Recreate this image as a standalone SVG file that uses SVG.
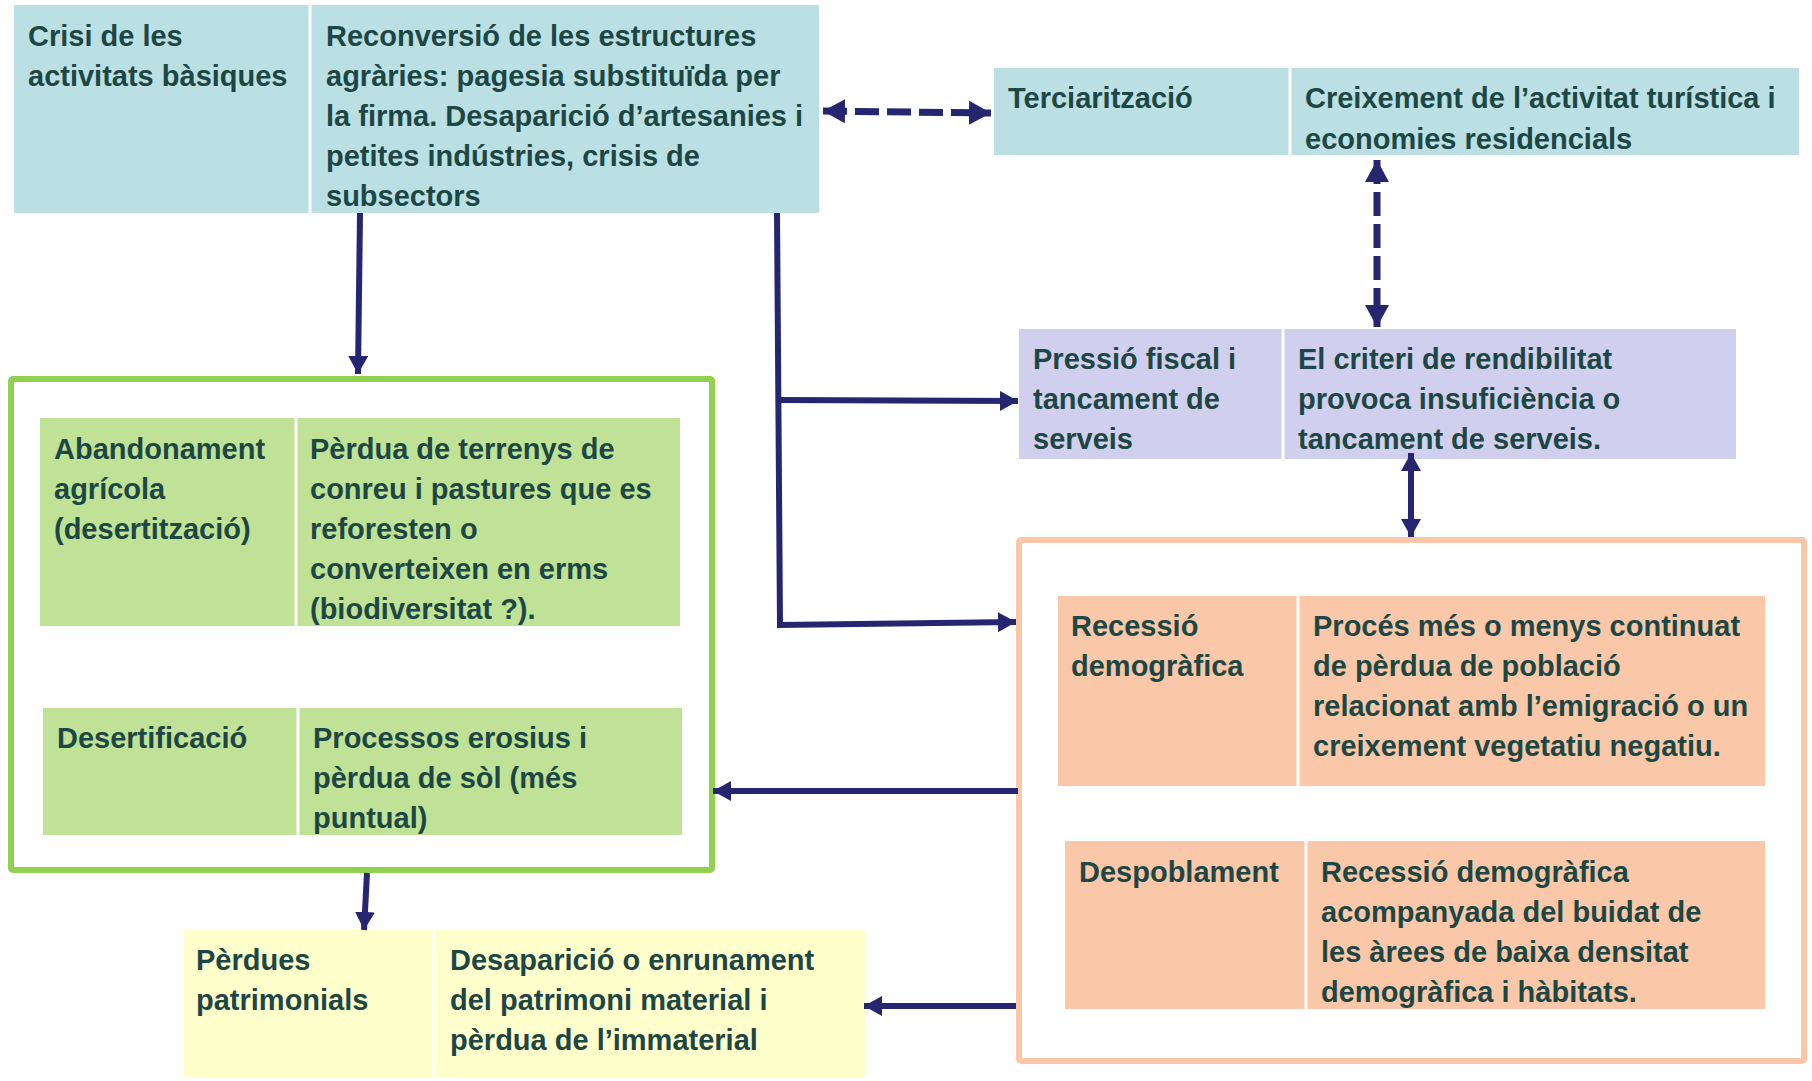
<svg xmlns="http://www.w3.org/2000/svg" width="1812" height="1081" viewBox="0 0 1812 1081">
<style>
  text { font-family: "Liberation Sans", Arial, sans-serif; font-weight: bold; font-size: 29px; fill: #1D4744; }
  .teal { fill: #BAE0E3; }
  .lav { fill: #D0D0EE; }
  .grn { fill: #BFE296; }
  .pch { fill: #FAC8A8; }
  .yel { fill: #FFFFCC; }
  .div { stroke: #ffffff; stroke-width: 3; }
  .con { fill: none; stroke: #262670; stroke-width: 6; }
  .dash { fill: none; stroke: #262670; stroke-width: 7; stroke-dasharray: 24 8; }
</style>
<defs>
  <marker id="arr" viewBox="0 0 18 20" refX="18" refY="10" markerWidth="18" markerHeight="20" orient="auto-start-reverse" markerUnits="userSpaceOnUse">
    <path d="M0,0 L18,10 L0,20 z" fill="#262670"/>
  </marker>
  <marker id="arrD" viewBox="0 0 22 24" refX="22" refY="12" markerWidth="22" markerHeight="24" orient="auto-start-reverse" markerUnits="userSpaceOnUse">
    <path d="M0,0 L22,12 L0,24 z" fill="#262670"/>
  </marker>
</defs>

<g id="node-crisi">
  <rect class="teal" x="14" y="5" width="805" height="208"/>
  <line class="div" x1="310" y1="5" x2="310" y2="213"/>
  <text><tspan x="28" y="46">Crisi de les</tspan><tspan x="28" y="86">activitats bàsiques</tspan></text>
  <text><tspan x="326" y="46">Reconversió de les estructures</tspan><tspan x="326" y="86">agràries: pagesia substituïda per</tspan><tspan x="326" y="126">la firma. Desaparició d’artesanies i</tspan><tspan x="326" y="166">petites indústries, crisis de</tspan><tspan x="326" y="206">subsectors</tspan></text>
</g>

<g id="node-terciaritzacio">
  <rect class="teal" x="994" y="68" width="805" height="87"/>
  <line class="div" x1="1290" y1="68" x2="1290" y2="155"/>
  <text><tspan x="1008" y="108">Terciarització</tspan></text>
  <text><tspan x="1305" y="108">Creixement de l’activitat turística i</tspan><tspan x="1305" y="149">economies residencials</tspan></text>
</g>

<g id="node-pressio">
  <rect class="lav" x="1019" y="329" width="717" height="130"/>
  <line class="div" x1="1283" y1="329" x2="1283" y2="459"/>
  <text><tspan x="1033" y="369">Pressió fiscal i</tspan><tspan x="1033" y="409">tancament de</tspan><tspan x="1033" y="449">serveis</tspan></text>
  <text><tspan x="1298" y="369">El criteri de rendibilitat</tspan><tspan x="1298" y="409">provoca insuficiència o</tspan><tspan x="1298" y="449">tancament de serveis.</tspan></text>
</g>

<g id="group-green">
  <rect x="11" y="379" width="701" height="491" fill="#ffffff" stroke="#92D050" stroke-width="6" rx="2"/>
  <g id="node-abandonament">
    <rect class="grn" x="40" y="418" width="640" height="208"/>
    <line class="div" x1="296" y1="418" x2="296" y2="626"/>
    <text><tspan x="54" y="459">Abandonament</tspan><tspan x="54" y="499">agrícola</tspan><tspan x="54" y="539">(desertització)</tspan></text>
    <text><tspan x="310" y="459">Pèrdua de terrenys de</tspan><tspan x="310" y="499">conreu i pastures que es</tspan><tspan x="310" y="539">reforesten o</tspan><tspan x="310" y="579">converteixen en erms</tspan><tspan x="310" y="619">(biodiversitat ?).</tspan></text>
  </g>
  <g id="node-desertificacio">
    <rect class="grn" x="43" y="708" width="639" height="127"/>
    <line class="div" x1="298" y1="708" x2="298" y2="835"/>
    <text><tspan x="57" y="748">Desertificació</tspan></text>
    <text><tspan x="313" y="748">Processos erosius i</tspan><tspan x="313" y="788">pèrdua de sòl (més</tspan><tspan x="313" y="828">puntual)</tspan></text>
  </g>
</g>

<g id="group-orange">
  <rect x="1019" y="540" width="785" height="521" fill="#ffffff" stroke="#FAC8A8" stroke-width="6" rx="2"/>
  <g id="node-recessio">
    <rect class="pch" x="1058" y="596" width="707" height="190"/>
    <line class="div" x1="1298" y1="596" x2="1298" y2="786"/>
    <text><tspan x="1071" y="636">Recessió</tspan><tspan x="1071" y="676">demogràfica</tspan></text>
    <text><tspan x="1313" y="636">Procés més o menys continuat</tspan><tspan x="1313" y="676">de pèrdua de població</tspan><tspan x="1313" y="716">relacionat amb l’emigració o un</tspan><tspan x="1313" y="756">creixement vegetatiu negatiu.</tspan></text>
  </g>
  <g id="node-despoblament">
    <rect class="pch" x="1065" y="841" width="700" height="168"/>
    <line class="div" x1="1306" y1="841" x2="1306" y2="1009"/>
    <text><tspan x="1079" y="882">Despoblament</tspan></text>
    <text><tspan x="1321" y="882">Recessió demogràfica</tspan><tspan x="1321" y="922">acompanyada del buidat de</tspan><tspan x="1321" y="962">les àrees de baixa densitat</tspan><tspan x="1321" y="1002">demogràfica i hàbitats.</tspan></text>
  </g>
</g>

<g id="node-perdues">
  <rect class="yel" x="184" y="930" width="682" height="147"/>
  <line class="div" x1="434" y1="930" x2="434" y2="1077"/>
  <text><tspan x="196" y="970">Pèrdues</tspan><tspan x="196" y="1010">patrimonials</tspan></text>
  <text><tspan x="450" y="970">Desaparició o enrunament</tspan><tspan x="450" y="1010">del patrimoni material i</tspan><tspan x="450" y="1050">pèrdua de l’immaterial</tspan></text>
</g>

<g id="connectors">
  <line class="dash" x1="823" y1="111" x2="991" y2="113" marker-start="url(#arrD)" marker-end="url(#arrD)"/>
  <line class="dash" x1="1377" y1="160" x2="1377" y2="327" marker-start="url(#arrD)" marker-end="url(#arrD)"/>
  <line class="con" x1="1411" y1="453" x2="1411" y2="537" marker-start="url(#arr)" marker-end="url(#arr)"/>
  <line class="con" x1="360" y1="213" x2="358" y2="374" marker-end="url(#arr)"/>
  <polyline class="con" points="777,213 780,625 1016,622" marker-end="url(#arr)"/>
  <line class="con" x1="780" y1="400" x2="1018" y2="401" marker-end="url(#arr)"/>
  <line class="con" x1="1018" y1="791" x2="713" y2="791" marker-end="url(#arr)"/>
  <line class="con" x1="1016" y1="1006" x2="864" y2="1006" marker-end="url(#arr)"/>
  <line class="con" x1="367" y1="873" x2="364" y2="930" marker-end="url(#arr)"/>
</g>
</svg>
